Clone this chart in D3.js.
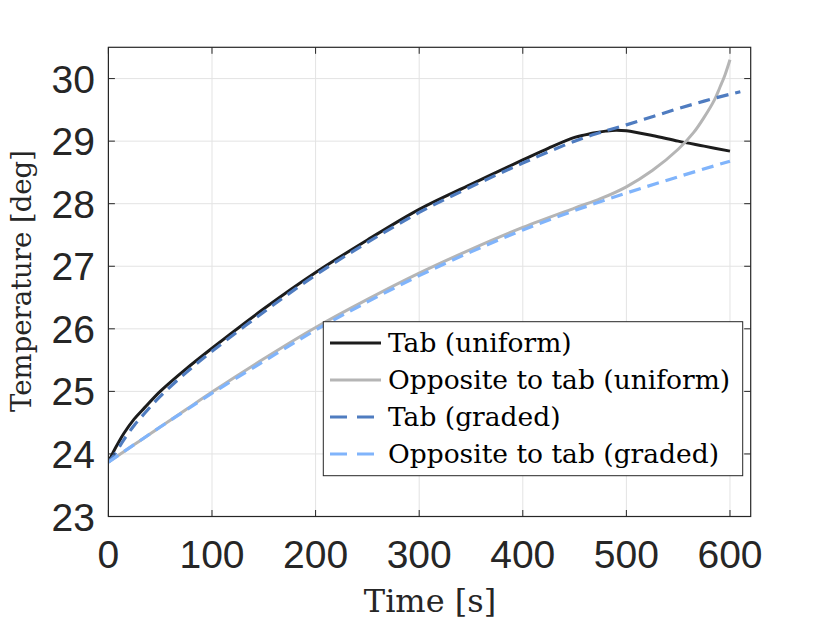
<!DOCTYPE html>
<html>
<head>
<meta charset="utf-8">
<script src="https://cdn.jsdelivr.net/npm/d3@7"></script>
<style>
  html, body { margin: 0; padding: 0; background: #fff; }
  svg { display: block; }
</style>
</head>
<body>
<svg id="chart" width="830" height="627"></svg>
<script>
// ---- data ----
const xTicks = [0, 100, 200, 300, 400, 500, 600];
const yTicks = [23, 24, 25, 26, 27, 28, 29, 30];

const tabUniformT = [0, 5, 10, 15, 25, 35, 50, 75, 100, 150, 200, 250, 300, 350, 400, 425, 450, 460, 470, 480, 490, 500, 525, 550, 575, 600];
const tabUniformV = [23.87, 24.04, 24.19, 24.33, 24.56, 24.74, 25.00, 25.36, 25.69, 26.32, 26.90, 27.42, 27.91, 28.31, 28.70, 28.89, 29.06, 29.10, 29.135, 29.16, 29.175, 29.165, 29.09, 29.00, 28.92, 28.84];

const oppUniformT = [0, 25, 50, 75, 100, 150, 200, 250, 300, 350, 400, 450, 475, 500, 525, 550, 565, 575, 585, 590, 595, 600];
const oppUniformV = [23.87, 24.15, 24.43, 24.71, 24.99, 25.52, 26.02, 26.47, 26.89, 27.27, 27.62, 27.93, 28.08, 28.27, 28.53, 28.87, 29.14, 29.38, 29.66, 29.85, 30.05, 30.30];

const tabGradedT = [0, 5, 10, 15, 25, 35, 50, 75, 100, 150, 200, 250, 300, 350, 400, 450, 475, 500, 525, 550, 575, 600, 610];
const tabGradedV = [23.87, 23.97, 24.10, 24.23, 24.46, 24.65, 24.92, 25.30, 25.64, 26.27, 26.86, 27.38, 27.86, 28.27, 28.65, 29.00, 29.14, 29.26, 29.39, 29.52, 29.64, 29.75, 29.79];

const oppGradedT = [0, 25, 50, 75, 100, 150, 200, 250, 300, 350, 400, 450, 500, 550, 600];
const oppGradedV = [23.87, 24.15, 24.43, 24.70, 24.97, 25.48, 25.98, 26.43, 26.85, 27.23, 27.58, 27.89, 28.17, 28.43, 28.68];

const seriesNames = ["Tab (uniform)", "Opposite to tab (uniform)", "Tab (graded)", "Opposite to tab (graded)"];

// ---- layout ----
const svg = d3.select("#chart");
const L = 108.4, R = 750.7, T = 47.3, B = 516.5;
const axisColor = "#262626";

const x = d3.scaleLinear().domain([0, 620]).range([L, R]);
const y = d3.scaleLinear().domain([23, 30.5]).range([B, T]);

// grid
const grid = svg.append("g");
grid.selectAll("line.gx").data(xTicks).join("line")
  .attr("x1", d => x(d)).attr("x2", d => x(d))
  .attr("y1", T).attr("y2", B)
  .attr("stroke", "#e3e3e3").attr("stroke-width", 1);
grid.selectAll("line.gy").data(yTicks).join("line")
  .attr("y1", d => y(d)).attr("y2", d => y(d))
  .attr("x1", L).attr("x2", R)
  .attr("stroke", "#e3e3e3").attr("stroke-width", 1);

// lines
const styles = [
  { t: tabUniformT, v: tabUniformV, color: "#1c1c1c", dash: null, w: 3 },
  { t: oppUniformT, v: oppUniformV, color: "#b5b5b5", dash: null, w: 3 },
  { t: tabGradedT, v: tabGradedV, color: "#4f7cc0", dash: "12,7", w: 3.2 },
  { t: oppGradedT, v: oppGradedV, color: "#80b4fb", dash: "12,7", w: 3.2 }
];

svg.append("clipPath").attr("id", "clip").append("rect")
  .attr("x", L).attr("y", T).attr("width", R - L).attr("height", B - T);

const line = d3.line().x(d => x(d[0])).y(d => y(d[1])).curve(d3.curveCatmullRom.alpha(0.5));
const lines = svg.append("g").attr("clip-path", "url(#clip)");
styles.forEach(s => {
  const pts = s.t.map((t, i) => [t, s.v[i]]);
  lines.append("path").datum(pts)
    .attr("d", line)
    .attr("fill", "none")
    .attr("stroke", s.color)
    .attr("stroke-width", s.w)
    .attr("stroke-dasharray", s.dash)
    .attr("stroke-linejoin", "round");
});

// axes box
svg.append("rect").attr("x", L).attr("y", T).attr("width", R - L).attr("height", B - T)
  .attr("fill", "none").attr("stroke", axisColor).attr("stroke-width", 1.2);

// ticks (inward, all four sides)
const tl = 6.5;
const axes = svg.append("g").attr("stroke", axisColor).attr("stroke-width", 1);
xTicks.forEach(d => {
  axes.append("line").attr("x1", x(d)).attr("x2", x(d)).attr("y1", B).attr("y2", B - tl);
  axes.append("line").attr("x1", x(d)).attr("x2", x(d)).attr("y1", T).attr("y2", T + tl);
});
yTicks.forEach(d => {
  axes.append("line").attr("y1", y(d)).attr("y2", y(d)).attr("x1", L).attr("x2", L + tl);
  axes.append("line").attr("y1", y(d)).attr("y2", y(d)).attr("x1", R).attr("x2", R - tl);
});

// tick labels
const tickFont = "'Liberation Sans', Arial, Helvetica, sans-serif";
svg.append("g").selectAll("text").data(xTicks).join("text")
  .attr("x", d => x(d)).attr("y", 568)
  .attr("text-anchor", "middle")
  .attr("font-family", tickFont).attr("font-size", 39).attr("fill", axisColor)
  .text(d => d);
svg.append("g").selectAll("text").data(yTicks).join("text")
  .attr("x", 95).attr("y", d => y(d)).attr("dy", "0.36em")
  .attr("text-anchor", "end")
  .attr("font-family", tickFont).attr("font-size", 39).attr("fill", axisColor)
  .text(d => d);

// axis labels
const serif = "'DejaVu Serif', 'Liberation Serif', serif";
svg.append("text").attr("x", 430).attr("y", 612)
  .attr("text-anchor", "middle").attr("font-family", serif).attr("font-size", 32)
  .attr("fill", axisColor).text("Time [s]");
svg.append("text").attr("transform", "translate(31,281) rotate(-90)")
  .attr("text-anchor", "middle").attr("font-family", serif).attr("font-size", 27.5)
  .attr("fill", axisColor).text("Temperature [deg]");

// legend
const lg = svg.append("g");
lg.append("rect").attr("x", 323.3).attr("y", 321.7).attr("width", 419.4).attr("height", 154)
  .attr("fill", "#fff").attr("stroke", axisColor).attr("stroke-width", 1);
const rowY = [343, 380, 417, 454];
styles.forEach((s, i) => {
  lg.append("line").attr("x1", 330).attr("x2", 381).attr("y1", rowY[i]).attr("y2", rowY[i])
    .attr("stroke", s.color).attr("stroke-width", s.w)
    .attr("stroke-dasharray", s.dash ? "17,10" : null);
  lg.append("text").attr("x", 388).attr("y", rowY[i]).attr("dy", "0.35em")
    .attr("font-family", serif).attr("font-size", 26.5).attr("fill", "#000")
    .text(seriesNames[i]);
});
</script>
</body>
</html>
